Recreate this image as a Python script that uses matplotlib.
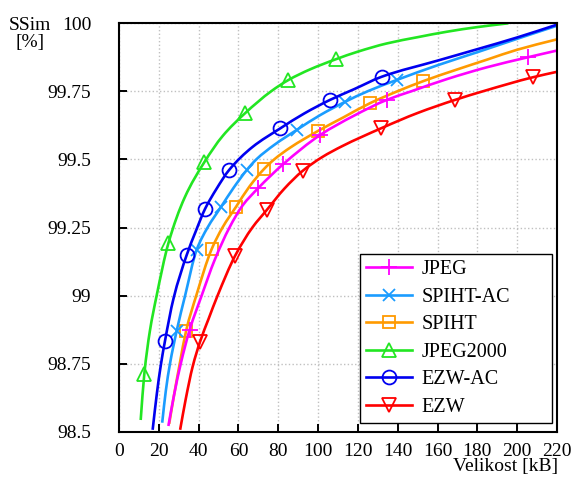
import matplotlib
matplotlib.use('Agg')
import matplotlib.pyplot as plt
from matplotlib.path import Path
from matplotlib.patches import PathPatch
from matplotlib.lines import Line2D
import numpy as np

plt.rcParams['font.family'] = ['Liberation Serif', 'DejaVu Serif']

# JPEG
jpeg_x = [24.8, 27.5, 31, 35.5, 41.5, 48, 55.5, 62, 70, 82.6, 101, 118, 134.5, 147, 165, 185, 205.2, 220]
jpeg_y = [98.522, 98.63, 98.75, 98.875, 99.0, 99.13, 99.25, 99.33, 99.395, 99.483, 99.589, 99.66,
          99.718, 99.75, 99.795, 99.838, 99.874, 99.899]
jpeg_mk = [3, 8, 9, 10, 12, 16]

# SPIHT-AC
spihtac_x = [21.7, 23.5, 25.6, 29.0, 33.2, 39.0, 44.5, 51.1, 57.5, 64.2, 69, 78, 89.3, 101, 113.6, 125,
             139.5, 160, 180, 200, 220]
spihtac_y = [98.534, 98.65, 98.75, 98.872, 99.0, 99.168, 99.25, 99.324, 99.395, 99.461, 99.5, 99.553,
             99.608, 99.662, 99.711, 99.75, 99.791, 99.845, 99.893, 99.942, 99.99]
spihtac_mk = [3, 5, 7, 9, 12, 14, 16]

# SPIHT
spiht_x = [25.2, 28, 30.5, 33.7, 38.8, 46.5, 52, 58.8, 65.5, 72.9, 78, 86, 100.2, 113, 126.1, 140, 152.9,
           170, 185, 200, 220]
spiht_y = [98.53, 98.65, 98.75, 98.871, 99.0, 99.17, 99.25, 99.326, 99.4, 99.465, 99.5, 99.543, 99.605,
           99.655, 99.706, 99.75, 99.787, 99.83, 99.866, 99.902, 99.94]
spiht_mk = [3, 5, 7, 9, 12, 14, 16]

# JPEG2000
j2k_x = [10.9, 12.7, 15.5, 18.9, 24.8, 33, 42.9, 52, 63.3, 76.5, 85.1, 96, 108.9, 120, 134.5, 150, 164.7,
         180, 195.6]
j2k_y = [98.544, 98.712, 98.87, 99.0, 99.192, 99.36, 99.49, 99.585, 99.669, 99.75, 99.791, 99.83, 99.867,
         99.895, 99.925, 99.948, 99.968, 99.985, 99.999]
j2k_mk = [1, 4, 6, 8, 10, 12]

# EZW-AC
ezwac_x = [16.9, 19, 21, 23.1, 27.4, 34, 38.5, 43.2, 49, 55.2, 67, 81.1, 93, 106, 118, 132, 160, 180, 200, 220]
ezwac_y = [98.508, 98.64, 98.745, 98.834, 98.99, 99.149, 99.235, 99.318, 99.392, 99.46, 99.545, 99.614,
           99.668, 99.718, 99.757, 99.803, 99.862, 99.904, 99.947, 99.994]
ezwac_mk = [3, 5, 7, 9, 11, 13, 15]

# EZW
ezw_x = [30.7, 33.5, 37, 40.7, 45, 49.5, 58.3, 67, 74.2, 83, 92.3, 102, 112, 131.7, 150, 168.8, 183, 207.9, 220]
ezw_y = [98.508, 98.62, 98.74, 98.831, 98.915, 99.0, 99.146, 99.25, 99.314, 99.392, 99.458, 99.508, 99.548,
         99.614, 99.67, 99.718, 99.75, 99.801, 99.821]
ezw_mk = [3, 6, 8, 10, 13, 15, 17]

x_ticks = [0, 20, 40, 60, 80, 100, 120, 140, 160, 180, 200, 220]
y_ticks = [98.5, 98.75, 99, 99.25, 99.5, 99.75, 100]
y_ticklabels = ['98.5', '98.75', '99', '99.25', '99.5', '99.75', '100']


def smooth_path(xs, ys):
    # cubic bezier through the read points (monotone hermite tangents)
    x = np.asarray(xs, float)
    y = np.asarray(ys, float)
    h = np.diff(x)
    d = np.diff(y) / h
    m = np.zeros_like(x)
    m[0] = d[0]
    m[-1] = d[-1]
    for i in range(1, len(x) - 1):
        if d[i-1] * d[i] <= 0:
            m[i] = 0
        else:
            w1 = 2*h[i] + h[i-1]
            w2 = h[i] + 2*h[i-1]
            m[i] = (w1 + w2) / (w1/d[i-1] + w2/d[i])
    verts = [(x[0], y[0])]
    codes = [Path.MOVETO]
    for i in range(len(x) - 1):
        verts += [(x[i] + h[i]/3, y[i] + m[i]*h[i]/3),
                  (x[i+1] - h[i]/3, y[i+1] - m[i+1]*h[i]/3),
                  (x[i+1], y[i+1])]
        codes += [Path.CURVE4] * 3
    return Path(verts, codes)


fig = plt.figure(figsize=(5.76, 4.8), dpi=100)
ax = fig.add_axes([119/576, 1-432/480, 438/576, 409/480])

series = [
    (jpeg_x, jpeg_y, jpeg_mk, 'JPEG', '#ff00ff', '+', 12, 4),
    (spihtac_x, spihtac_y, spihtac_mk, 'SPIHT-AC', '#1a9cff', 'x', 9, 2.2),
    (spiht_x, spiht_y, spiht_mk, 'SPIHT', '#ff9a00', 's', 9, 2),
    (j2k_x, j2k_y, j2k_mk, 'JPEG2000', '#22e622', '^', 10, 3),
    (ezwac_x, ezwac_y, ezwac_mk, 'EZW-AC', '#0000f0', 'o', 10, 3.1),
    (ezw_x, ezw_y, ezw_mk, 'EZW', '#ff0000', 'v', 10, 3),
]

handles = []
for xs, ys, mk, name, col, m, ms, z in series:
    patch = PathPatch(smooth_path(xs, ys), facecolor='none', edgecolor=col, lw=1.9,
                      capstyle='butt', zorder=z)
    ax.add_patch(patch)
    ax.plot(np.array(xs)[mk], np.array(ys)[mk], ls='none', marker=m, ms=ms,
            mfc='none', mec=col, mew=1.3, zorder=z)
    handles.append(Line2D([], [], color=col, lw=1.9, marker=m, ms=ms, mfc='none',
                          mec=col, mew=1.3, label=name))

ax.set_xlim(0, 220)
ax.set_ylim(98.5, 100)
ax.set_xticks(x_ticks)
ax.set_yticks(y_ticks)
ax.set_yticklabels(y_ticklabels)
ax.grid(True, linestyle=':', color='#c0c0c0', lw=1.0)
ax.set_axisbelow(True)
ax.tick_params(direction='in', length=6, width=1.4, labelsize=14, top=False, right=False)
ax.tick_params(axis='y', pad=20)
ax.tick_params(axis='x', pad=8)
for s in ax.spines.values():
    s.set_linewidth(1.5)
    s.set_zorder(10)

leg = ax.legend(handles=handles, loc='lower left', bbox_to_anchor=(0.550, 0.022, 0.4386, 0.401),
                mode='expand', fontsize=14.5, frameon=True, fancybox=False, edgecolor='black',
                framealpha=1, borderaxespad=0, handlelength=2.3, handletextpad=0.45,
                labelspacing=0.42, borderpad=0.3)
leg.get_frame().set_linewidth(1.0)
leg.set_zorder(20)

fig.text(30/576, 1-34/480, 'SSim\n[%]', ha='center', va='center', fontsize=14, linespacing=1.05)
fig.text(558/576, 1-467/480, 'Velikost [kB]', ha='right', va='center', fontsize=14)

fig.savefig('out.png', dpi=100)
